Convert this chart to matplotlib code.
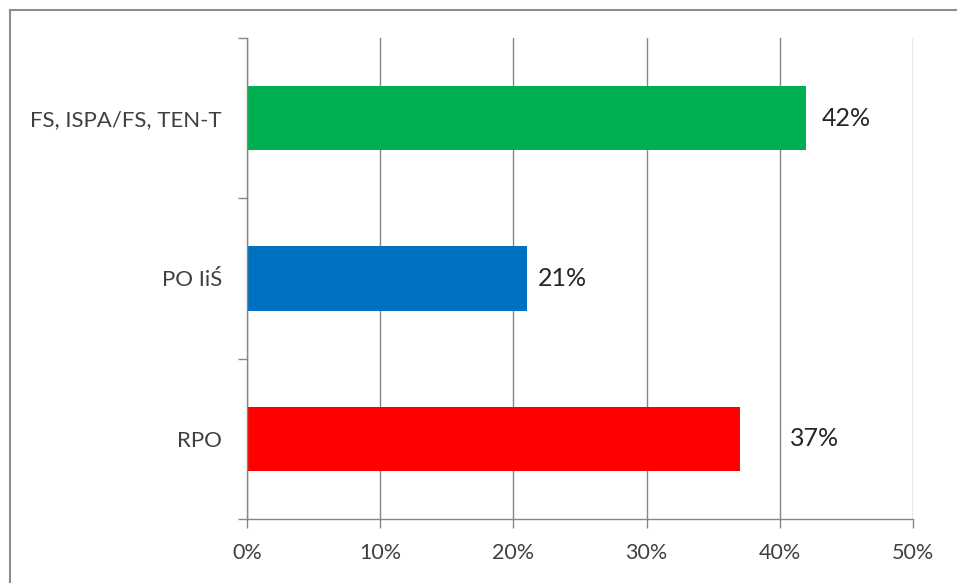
import matplotlib
matplotlib.use("Agg")
import matplotlib.pyplot as plt
from matplotlib.lines import Line2D

plt.rcParams['font.family'] = ['Lato', 'DejaVu Sans']

categories = ["RPO", "PO IiŚ", "FS, ISPA/FS, TEN-T"]
values = [37, 21, 42]
colors = ["#FF0000", "#0070C0", "#00B050"]
value_labels = ["37%", "21%", "42%"]
label_offsets_pt = [36, 8, 11]
xticks = [0, 10, 20, 30, 40, 50]
xtick_labels = ["0%", "10%", "20%", "30%", "40%", "50%"]

W, H = 957, 583
fig = plt.figure(figsize=(W / 100, H / 100), dpi=100)
ax = fig.add_axes([247 / W, 1 - 519 / H, (913 - 247) / W, (519 - 38) / H])

ypos = list(range(len(categories)))
ax.barh(ypos, values, height=0.4, color=colors, zorder=3)

grid_color = "#868686"
ax.set_xlim(0, 50)
ax.set_ylim(-0.5, len(categories) - 0.5)
ax.set_xticks(xticks)
ax.set_xticklabels(xtick_labels, fontsize=15.5, color="#404040")
ax.set_yticks(ypos)
ax.set_yticklabels(categories, fontsize=16, color="#404040")
ax.set_yticks([i - 0.5 for i in range(len(categories) + 1)], minor=True)
ax.tick_params(axis="y", which="major", length=0, pad=18)
ax.tick_params(axis="y", which="minor", length=6.5, width=1, color=grid_color, direction="out")
ax.tick_params(axis="x", which="major", length=6.5, width=1, color=grid_color, direction="out", pad=11)

ax.grid(axis="x", color=grid_color, linewidth=1, zorder=0)
for side in ["top", "right"]:
    ax.spines[side].set_visible(False)
for side in ["left", "bottom"]:
    ax.spines[side].set_color(grid_color)
    ax.spines[side].set_linewidth(1)
    ax.spines[side].set_zorder(4)

for y, v, lab, off in zip(ypos, values, value_labels, label_offsets_pt):
    ax.annotate(lab, xy=(v, y), xytext=(off, 0), textcoords="offset points",
                ha="left", va="center", fontsize=18, color="#262626")

# outer chart border (left and top visible)
bx, by = 10 / W, 1 - 10 / H
fig.add_artist(Line2D([bx, bx], [0, by], transform=fig.transFigure, color="#8c8c8c", linewidth=1.5))
fig.add_artist(Line2D([bx, 1], [by, by], transform=fig.transFigure, color="#8c8c8c", linewidth=1.5))

fig.savefig("out.png", dpi=100, facecolor="white")
